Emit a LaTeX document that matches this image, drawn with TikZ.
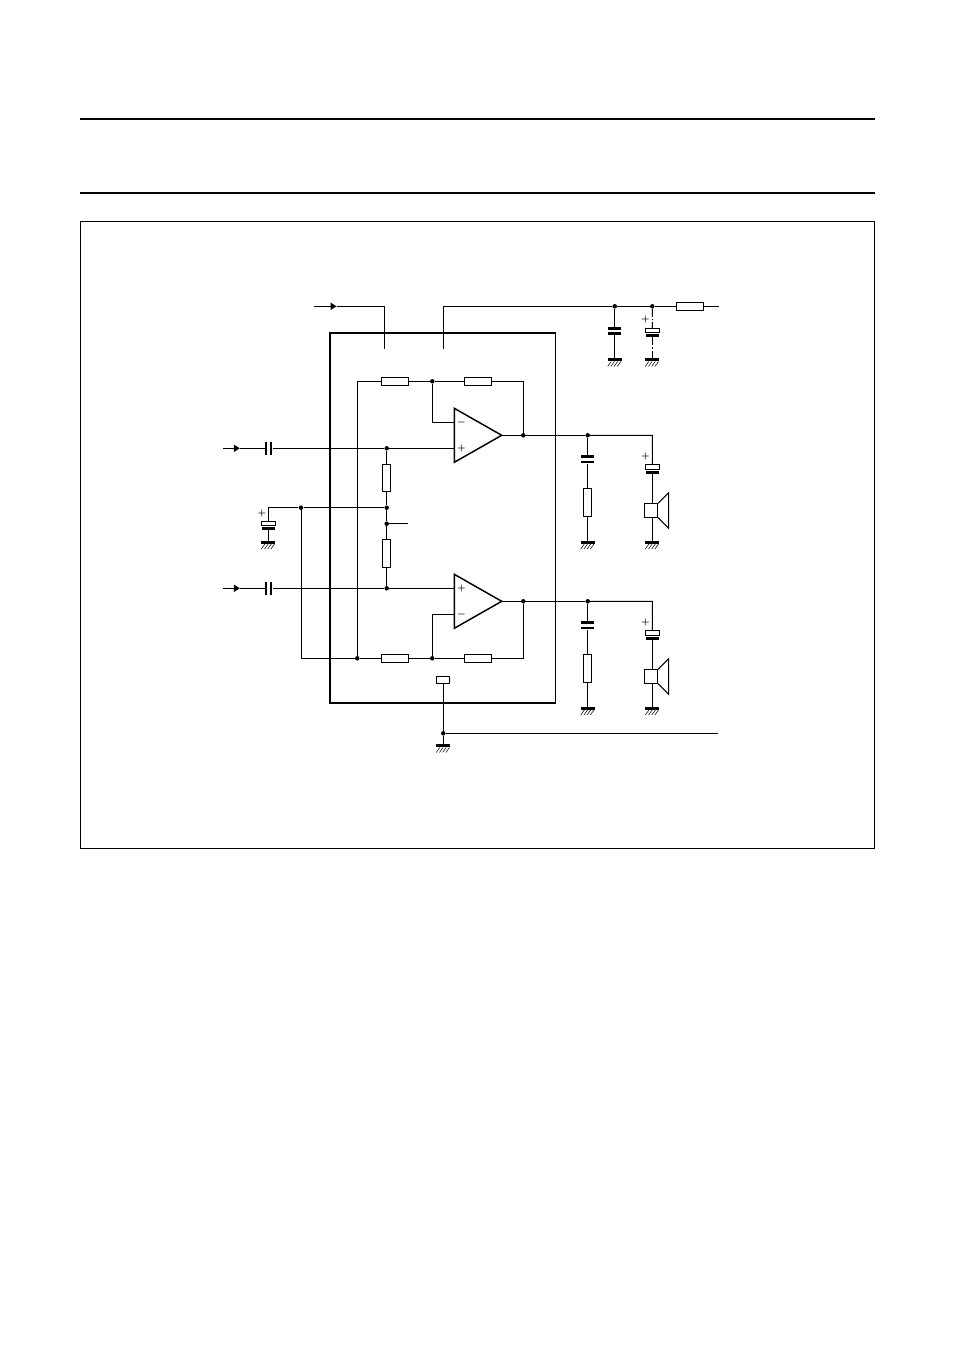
\documentclass[tikz,border=0pt]{standalone}
\usetikzlibrary{arrows.meta}

\tikzset{
  wire/.style={line width=0.75pt},
  dot/.style={circle,fill=black,inner sep=0pt,minimum size=3.4pt},
  hres/.style={draw,line width=0.75pt,fill=white,inner sep=0pt,minimum width=20.5pt,minimum height=6pt},
  vres/.style={draw,line width=0.75pt,fill=white,inner sep=0pt,minimum width=6pt,minimum height=20.5pt},
  plateh/.style={fill=black,inner sep=0pt,minimum width=10pt,minimum height=2pt},
  platev/.style={fill=black,inner sep=0pt,minimum width=1.4pt,minimum height=10pt},
  elko/.style={draw,line width=0.75pt,fill=white,inner sep=0pt,minimum width=10.5pt,minimum height=3.3pt},
  gnd/.style={fill=black,inner sep=0pt,minimum width=10.3pt,minimum height=2.2pt},
  sign/.style={inner sep=0pt,font=\fontsize{6}{6}\selectfont\boldmath},
  head/.style={-{Triangle[length=4.5pt,width=5.5pt]},line width=0.75pt},
  dashdot/.style={line width=0.75pt,dash pattern=on 6pt off 1.5pt on 1pt off 1.5pt}
}

\begin{document}
\begin{tikzpicture}[x=0.75pt,y=-0.75pt]
\useasboundingbox (0,0) rectangle (954,1351);

% page rules and frame
\draw[line width=1.5pt] (80,119) -- (875,119);
\draw[line width=1.5pt] (80,193) -- (875,193);
\draw[line width=0.75pt] (80.5,221.5) rectangle (874.5,848.5);

\node[draw,line width=1.3pt,inner sep=0pt,minimum width=168.9pt,minimum height=277.5pt] (ic) at (442.8,518.3) {};

% supply pins
\coordinate (vin) at (314,306.3);
\coordinate (vtip) at (336.5,306.3);
\coordinate (pin1) at (384.3,349.5);
\coordinate (pin2) at (443.3,349.5);
\coordinate (vend) at (718.5,306.3);
\node[dot] (d1) at (614.7,306.3) {};
\node[dot] (d2) at (652.3,306.3) {};
\node[hres] (rs) at (690,306.3) {};
\draw[head] (vin) -- (vtip);
\draw[wire] (vtip) -| (pin1);
\draw[wire] (pin2) |- (d1);
\path[wire] (d1) edge (d2) (d2) edge (rs) (rs) edge (vend);

\node[plateh] (c1a) at (614.7,328.3) {};
\node[plateh] (c1b) at (614.7,333.3) {};
\node[gnd] (g1) at (614.7,359.7) {};
\path[wire] (d1) edge (c1a) (c1b) edge (g1);

\node[sign] (p1) at (645.5,320) {$+$};
\node[elko] (c2a) at (652.5,330.5) {};
\node[plateh] (c2b) at (652.3,335.8) {};
\node[gnd] (g2) at (652.3,359.7) {};
\path[dashdot] (d2) edge (c2a) (c2b) edge (g2);

% amplifier a
\coordinate (a1) at (454.3,408.3);
\coordinate (a2) at (454.3,462.3);
\coordinate (a3) at (501.7,435.3);
\draw[line width=1.1pt,fill=white,line join=miter] (a1) -- (a3) -- (a2) -- cycle;
\node[sign] (am) at (461.5,422.3) {$-$};
\node[sign] (ap) at (461.5,448.3) {$+$};
\coordinate (aneg) at (454.3,422.3);
\coordinate (apos) at (454.3,448.3);

% amplifier b
\coordinate (b1) at (454.3,574.3);
\coordinate (b2) at (454.3,628.3);
\coordinate (b3) at (501.7,601.3);
\draw[line width=1.1pt,fill=white,line join=miter] (b1) -- (b3) -- (b2) -- cycle;
\node[sign] (bp) at (461.5,588.3) {$+$};
\node[sign] (bm) at (461.5,614.7) {$-$};
\coordinate (bpos) at (454.3,588.3);
\coordinate (bneg) at (454.3,614.7);

% feedback
\coordinate (fa) at (357.3,381.3);
\node[hres] (r1) at (395,381.3) {};
\node[dot] (d3) at (432.3,381.3) {};
\node[hres] (r2) at (478,381.3) {};
\node[dot] (oa) at (523.3,435.3) {};
\draw[wire] (r1) -| (fa);
\path[wire] (r1) edge (d3) (d3) edge (r2);
\draw[wire] (r2) -| (oa);
\draw[wire] (d3) |- (aneg);

\node[dot] (d4) at (357.3,658.3) {};
\node[dot] (d5) at (432.3,658.3) {};
\node[dot] (d6) at (301,507.7) {};
\node[hres] (r3) at (395,658.3) {};
\node[hres] (r4) at (478,658.3) {};
\node[dot] (ob) at (523.3,601.3) {};
\path[wire] (fa) edge (d4) (d4) edge (r3) (r3) edge (d5) (d5) edge (r4);
\draw[wire] (r4) -| (ob);
\draw[wire] (d5) |- (bneg);
\draw[wire] (d6) |- (d4);

% inputs
\foreach \n/\y in {a/448.3,b/588.3}{
  \coordinate (in\n) at (223,\y);
  \coordinate (tip\n) at (239.8,\y);
  \node[platev] (k\n1) at (265.7,\y) {};
  \node[platev] (k\n2) at (271.3,\y) {};
  \node[dot] (j\n) at (386.7,\y) {};
  \draw[head] (in\n) -- (tip\n);
  \path[wire] (tip\n) edge (k\n1) (k\n2) edge (j\n);
}
\draw[wire] (ja) -- (apos);
\draw[wire] (jb) -- (bpos);

% divider
\node[vres] (r5) at (386.7,478) {};
\node[dot] (d7) at (386.7,507.7) {};
\node[dot] (d8) at (386.7,523.7) {};
\coordinate (tap) at (407.7,523.7);
\node[vres] (r6) at (386.7,553.5) {};
\path[wire] (ja) edge (r5) (r5) edge (d7) (d7) edge (d8) (d8) edge (r6) (r6) edge (jb) (d8) edge (tap) (d6) edge (d7);

\node[sign] (p2) at (262,513) {$+$};
\node[elko] (c3a) at (268.5,523.5) {};
\node[plateh] (c3b) at (268.3,528.8) {};
\node[gnd] (g3) at (268.3,542.3) {};
\draw[wire] (d6) -| (c3a);
\draw[wire] (c3b) -- (g3);

% outputs
\foreach \n/\s in {a/0,b/166}{
  \node[dot] (e\n) at (587.7,435.3+\s) {};
  \coordinate (s\n) at (652.3,435.3+\s);
  \node[plateh] (m\n1) at (587.7,456.7+\s) {};
  \node[plateh] (m\n2) at (587.7,462+\s) {};
  \node[vres] (z\n) at (587.7,502.5+\s) {};
  \node[gnd] (gz\n) at (587.7,542.3+\s) {};
  \node[sign] (q\n) at (645.5,456.7+\s) {$+$};
  \node[elko] (h\n) at (652.5,467+\s) {};
  \node[plateh] (i\n) at (652.3,472.5+\s) {};
  \node[draw,line width=0.75pt,inner sep=0pt,minimum size=10pt] (sp\n) at (650.8,510.5+\s) {};
  \coordinate (up\n) at (652.3,503.7+\s);
  \coordinate (lo\n) at (652.3,517.3+\s);
  \node[gnd] (gs\n) at (652.3,542.3+\s) {};
  \draw[line width=0.75pt] (sp\n.north east) -- (668.7,492.7+\s) -- (668.7,528.3+\s) -- (sp\n.south east);
  \draw[wire] (\n3) -- (e\n);
  \draw[wire] (e\n) -- (s\n) -- (h\n);
  \path[wire] (e\n) edge (m\n1) (m\n2) edge (z\n) (z\n) edge (gz\n) (i\n) edge (up\n) (lo\n) edge (gs\n);
}

% ground pin
\node[draw,line width=0.75pt,inner sep=0pt,minimum width=10pt,minimum height=5.5pt] (pin3) at (443.3,680) {};
\node[dot] (d9) at (443.3,733.3) {};
\node[gnd] (g4) at (443.3,745.7) {};
\coordinate (gend) at (717.5,733.3);
\path[wire] (pin3) edge (d9) (d9) edge (g4) (d9) edge (gend);

% hatching
\foreach \g in {g1,g2,g3,g4,gza,gzb,gsa,gsb}
  \foreach \i in {2.8,5.2,7.6,10}
    \draw[line width=0.4pt] ([xshift=\i pt]\g.south west) -- ++(-3.6,5);

\end{tikzpicture}
\end{document}
